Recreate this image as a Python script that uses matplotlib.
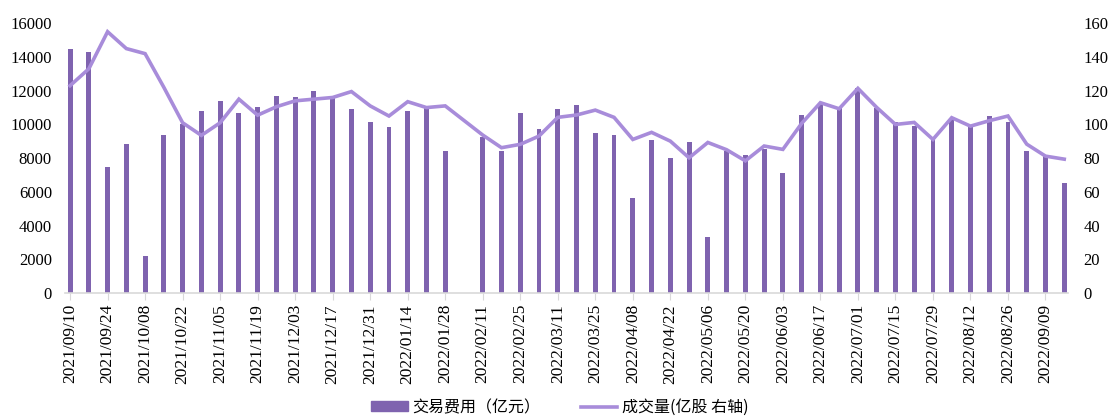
import numpy as np
import pandas as pd
import matplotlib
matplotlib.use('Agg')
import matplotlib.pyplot as plt

# Weekly trading fee and trading volume, 2021/09/10 - 2022/09/16
weeks = pd.date_range('2021-09-10', periods=54, freq='7D').strftime('%Y/%m/%d').tolist()

fee = [14500, 14300, 7500, 8850, 2180, 9400, 10000, 10800, 11400, 10650,
       11050, 11700, 11600, 12000, 11700, 10900, 10150, 9850, 10800, 11000,
       8450, np.nan, 9250, 8450, 10650, 9700, 10900, 11150, 9500, 9350,
       5650, 9100, 8000, 8950, 3350, 8400, 8200, 8550, 7100, 10550,
       11300, 10950, 12150, 10950, 10150, 9900, 9150, 10350, 9850, 10500,
       10150, 8450, 8200, 6500]

volume = [123, 133, 155, 145, 142, 122, 101, 93.5, 101, 115,
          105.5, 110.5, 114, 115, 116, 119.5, 111, 105, 113.5, 110,
          111, np.nan, 93.7, 86.2, 88.2, 93.1, 104.2, 105.6, 108.5, 104.2,
          91.1, 95.3, 90.1, 80.2, 89.3, 85, 78.4, 87.2, 85.2, 100.6,
          112.9, 109.3, 121.4, 110.1, 100, 101.2, 91.1, 104, 99, 102.2,
          105, 88.3, 81.2, 79.4]

bar_color = '#7F63AF'
line_color = '#A88CDA'
axis_grey = '#D9D9D9'

plt.rcParams['font.family'] = ['Liberation Serif', 'DejaVu Serif']

fig = plt.figure(figsize=(11.1, 4.2), dpi=100)
ax = fig.add_axes([65 / 1110, 1 - 293 / 420, (1068 - 65) / 1110, (293 - 23.3) / 420])
ax2 = ax.twinx()

x = np.arange(len(weeks))
ax.bar(x, fee, width=0.26, color=bar_color, zorder=2)

# connect across the holiday week with no data
vol = np.array(volume, dtype=float)
ok = np.isfinite(vol)
line, = ax2.plot(x[ok], vol[ok], color=line_color, lw=2.6, solid_joinstyle='miter', zorder=3)

ax.set_xlim(-0.27, 53.2)
ax.set_ylim(0, 16000)
ax2.set_ylim(0, 160)
ax.set_yticks(range(0, 16001, 2000))
ax2.set_yticks(range(0, 161, 20))

ax.set_xticks(x[::2])
ax.set_xticklabels(weeks[::2], rotation=90, fontsize=12.5)
ax.tick_params(axis='x', length=5, color=axis_grey, pad=3)
ax.tick_params(axis='y', length=0, labelsize=12, pad=9.4)
ax2.tick_params(axis='y', length=0, labelsize=12, pad=11)

for a in (ax, ax2):
    for s in ('top', 'left', 'right'):
        a.spines[s].set_visible(False)
ax2.spines['bottom'].set_visible(False)
ax.spines['bottom'].set_color(axis_grey)
ax.spines['bottom'].set_linewidth(1.2)

handles = [matplotlib.patches.Patch(color=bar_color), line]
labels = ['交易费用（亿元）', '成交量(亿股 右轴)']
fig.legend(handles, labels, loc='center', bbox_to_anchor=(560 / 1110, 0.03), ncol=2,
           frameon=False, handlelength=2.3, handleheight=0.6, handletextpad=0.3,
           columnspacing=2.5, prop={'family': ['Noto Sans CJK SC', 'DejaVu Sans'], 'size': 11.5})

fig.savefig('out.png', dpi=100)
